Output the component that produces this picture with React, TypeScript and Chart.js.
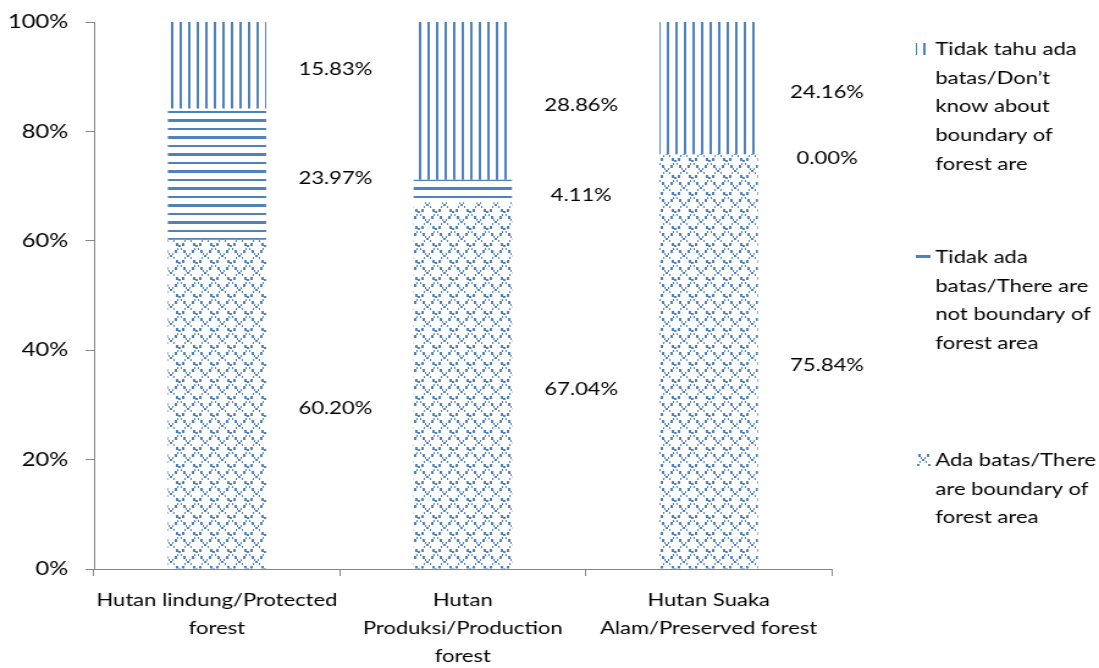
import React, { useEffect, useRef } from "react";
import { Chart, registerables } from "chart.js";

Chart.register(...registerables);

const categories: string[][] = [
  ["Hutan lindung/Protected", "forest"],
  ["Hutan", "Produksi/Production", "forest"],
  ["Hutan Suaka", "Alam/Preserved forest"],
];
const adaBatas = [60.2, 67.04, 75.84];
const tidakAdaBatas = [23.97, 4.11, 0.0];
const tidakTahu = [15.83, 28.86, 24.16];
const yTicks = [0, 20, 40, 60, 80, 100];

const legendAda = ["Ada batas/There", "are boundary of", "forest area"];
const legendTidakAda = ["Tidak ada", "batas/There are", "not boundary of", "forest area"];
const legendTidakTahu = ["Tidak tahu ada", "batas/Don\u2019t", "know about", "boundary of", "forest are"];

const BLUE = "#4F81BD";
const AXIS = "#868686";
const FONT = "Lato, 'Open Sans', sans-serif";
const SX = 1099 / 900;

function makePattern(ctx: CanvasRenderingContext2D, w: number, h: number, draw: (g: CanvasRenderingContext2D) => void) {
  const c = document.createElement("canvas");
  c.width = w;
  c.height = h;
  const g = c.getContext("2d")!;
  g.fillStyle = BLUE;
  draw(g);
  return ctx.createPattern(c, "repeat")!;
}

export default function App() {
  const ref = useRef<HTMLCanvasElement | null>(null);

  useEffect(() => {
    document.body.style.margin = "0";
    const canvas = ref.current!;
    const ctx = canvas.getContext("2d")!;

    const vertPat = makePattern(ctx, 14, 4, (g) => {
      g.fillRect(0, 0, 2, 4);
      g.fillRect(7, 0, 2, 4);
    });
    const horPat = makePattern(ctx, 4, 17, (g) => {
      g.fillRect(0, 0, 4, 3);
      g.fillRect(0, 9, 4, 2);
    });
    const latPat = makePattern(ctx, 14, 17, (g) => {
      for (let k = 0; k < 14; k += 2) {
        const y = Math.round((k * 17) / 14);
        const big = k === 4 || k === 10;
        const s = big ? 2 : 1;
        g.fillRect(k, y, s, s + 1);
        g.fillRect(13 - k, y, s, s + 1);
      }
    });

    const labelPlugin = {
      id: "valueLabels",
      afterDatasetsDraw(chart: any) {
        const c = chart.ctx;
        c.save();
        c.font = `18px ${FONT}`;
        c.fillStyle = "#000";
        c.textAlign = "center";
        c.textBaseline = "middle";
        chart.data.datasets.forEach((ds: any, di: number) => {
          const meta = chart.getDatasetMeta(di);
          meta.data.forEach((bar: any, i: number) => {
            const v = ds.data[i] as number;
            const x = bar.x + 97;
            const y = (bar.y + bar.base) / 2 + 4;
            c.fillText(v.toFixed(2) + "%", x, y);
          });
        });
        c.restore();
      },
    };

    const legendPlugin = {
      id: "patternLegend",
      afterDraw(chart: any) {
        const c = chart.ctx;
        c.save();
        c.font = `18px ${FONT}`;
        c.fillStyle = "#000";
        c.textAlign = "left";
        c.textBaseline = "middle";
        const items = [
          { lines: legendTidakTahu, pat: vertPat, y0: 49 },
          { lines: legendTidakAda, pat: horPat, y0: 257 },
          { lines: legendAda, pat: latPat, y0: 460 },
        ];
        items.forEach((it) => {
          c.fillStyle = it.pat;
          c.fillRect(750, it.y0 - 6, 12, 12);
          c.fillStyle = "#000";
          it.lines.forEach((t, j) => c.fillText(t, 766, it.y0 + j * 28.8));
        });
        c.restore();
      },
    };

    const chart = new Chart(canvas, {
      type: "bar",
      data: {
        labels: categories as any,
        datasets: [
          { label: "Ada batas/There are boundary of forest area", data: adaBatas, backgroundColor: latPat as any },
          { label: "Tidak ada batas/There are not boundary of forest area", data: tidakAdaBatas, backgroundColor: horPat as any },
          { label: "Tidak tahu ada batas/Don\u2019t know about boundary of forest are", data: tidakTahu, backgroundColor: vertPat as any },
        ],
      },
      options: {
        animation: false,
        responsive: false,
        devicePixelRatio: 1,
        layout: { padding: { top: 22, right: 219, left: 0, bottom: 0 } },
        datasets: { bar: { barPercentage: 0.4, categoryPercentage: 1 } },
        plugins: { legend: { display: false }, tooltip: { enabled: false } },
        scales: {
          x: {
            stacked: true,
            offset: true,
            grid: { display: true, drawOnChartArea: false, drawTicks: true, tickLength: 7, offset: true, color: AXIS },
            border: { display: true, color: AXIS },
            ticks: {
              color: "#000",
              font: { family: FONT, size: 18, lineHeight: 1.55 },
              padding: 10,
              maxRotation: 0,
              autoSkip: false,
            },
            afterFit: (s: any) => {
              s.height = 99;
              s.paddingLeft = 0;
              s.paddingRight = 0;
            },
          },
          y: {
            stacked: true,
            min: 0,
            max: 100,
            afterBuildTicks: (s: any) => {
              s.ticks = yTicks.map((v) => ({ value: v }));
            },
            grid: { display: true, drawOnChartArea: false, drawTicks: true, tickLength: 7, color: AXIS },
            border: { display: true, color: AXIS },
            ticks: {
              color: "#000",
              font: { family: FONT, size: 19.5 },
              padding: 14,
              callback: (v: any) => `${v}%`,
            },
            afterFit: (s: any) => {
              s.width = 77;
              s.paddingTop = 0;
              s.paddingBottom = 0;
            },
          },
        },
      },
      plugins: [labelPlugin, legendPlugin],
    });

    return () => chart.destroy();
  }, []);

  return (
    <div style={{ width: 1099, height: 668, overflow: "hidden", position: "relative", background: "#fff" }}>
      <div style={{ transform: `scaleX(${SX})`, transformOrigin: "0 0", width: 900, height: 668 }}>
        <canvas ref={ref} width={900} height={668} style={{ display: "block" }} />
      </div>
    </div>
  );
}
